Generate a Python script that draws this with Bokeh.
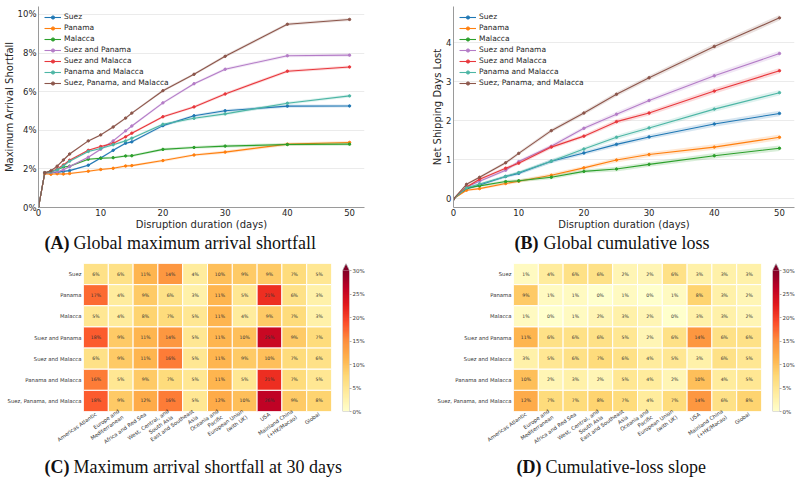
import numpy as np
from bokeh.plotting import figure
from bokeh.layouts import column, row
from bokeh.models import (Range1d, FixedTicker, PrintfTickFormatter, Legend, LegendItem,
                          FactorRange, LinearColorMapper, ColumnDataSource)
from bokeh.core.properties import value
from bokeh.embed import file_html
from bokeh.resources import INLINE
from bokeh.palettes import YlOrRd9

# ---------------- data ----------------
series_names = ["Suez", "Panama", "Malacca", "Suez and Panama", "Suez and Malacca",
                "Panama and Malacca", "Suez, Panama, and Malacca"]
series_colors = ["#1f77b4", "#ff7f0e", "#2ca02c", "#b47cc7", "#e8383d", "#4db6a5", "#8c564b"]

days_a = [0, 1, 2, 3, 4, 5, 8, 10, 12, 14, 15, 20, 25, 30, 40, 50]
shortfall_suez = [0, 1.78, 1.80, 1.82, 1.87, 1.91, 2.19, 2.56, 2.96, 3.33, 3.40, 4.24, 4.75, 5.01, 5.25, 5.26]
shortfall_panama = [0, 1.75, 1.72, 1.75, 1.73, 1.76, 1.88, 1.97, 2.03, 2.15, 2.17, 2.43, 2.72, 2.87, 3.28, 3.37]
shortfall_malacca = [0, 1.80, 1.85, 1.95, 2.10, 2.14, 2.50, 2.55, 2.58, 2.67, 2.68, 3.01, 3.11, 3.18, 3.26, 3.28]
shortfall_suez_panama = [0, 1.80, 1.82, 1.85, 1.95, 2.12, 2.60, 3.02, 3.45, 3.97, 4.22, 5.42, 6.41, 7.16, 7.86, 7.89]
shortfall_suez_malacca = [0, 1.80, 1.85, 2.00, 2.20, 2.45, 2.96, 3.16, 3.32, 3.66, 3.85, 4.70, 5.21, 5.88, 7.06, 7.28]
shortfall_panama_malacca = [0, 1.80, 1.85, 1.95, 2.15, 2.40, 2.90, 3.06, 3.25, 3.45, 3.59, 4.31, 4.62, 4.85, 5.40, 5.78]
shortfall_all = [0, 1.80, 1.90, 2.14, 2.46, 2.77, 3.45, 3.76, 4.17, 4.63, 4.89, 6.05, 6.90, 7.83, 9.49, 9.74]
band_a = [0, 0.04, 0.04, 0.04, 0.05, 0.05, 0.05, 0.05, 0.06, 0.06, 0.06, 0.07, 0.07, 0.08, 0.08, 0.08]

days_b = [0, 2, 4, 8, 10, 15, 20, 25, 30, 40, 50]
loss_suez = [0, 0.25, 0.35, 0.57, 0.65, 0.96, 1.17, 1.39, 1.58, 1.91, 2.18]
loss_panama = [0, 0.22, 0.26, 0.39, 0.45, 0.60, 0.79, 0.99, 1.13, 1.32, 1.57]
loss_malacca = [0, 0.28, 0.33, 0.44, 0.46, 0.55, 0.70, 0.76, 0.88, 1.10, 1.29]
loss_suez_panama = [0, 0.30, 0.45, 0.73, 0.95, 1.34, 1.80, 2.16, 2.51, 3.14, 3.71]
loss_suez_malacca = [0, 0.30, 0.50, 0.78, 0.91, 1.32, 1.60, 1.97, 2.19, 2.75, 3.27]
loss_panama_malacca = [0, 0.28, 0.38, 0.57, 0.67, 0.96, 1.27, 1.57, 1.81, 2.29, 2.71]
loss_all = [0, 0.37, 0.55, 0.92, 1.16, 1.74, 2.19, 2.67, 3.09, 3.89, 4.62]
band_b = [0, 0.03, 0.03, 0.04, 0.04, 0.05, 0.05, 0.06, 0.06, 0.07, 0.07]

regions = ["Americas Atlantic", "Europe and\nMediterranean", "Africa and Red Sea",
           "West, Central, and\nSouth Asia", "East and Southeast\nAsia", "Oceania and\nPacific",
           "European Union\n(with UK)", "USA", "Mainland China\n(+HK/Macao)", "Global"]

shortfall_30d = [
    [6, 6, 11, 14, 4, 10, 9, 9, 7, 5],
    [17, 4, 9, 6, 3, 11, 5, 21, 6, 3],
    [5, 4, 8, 7, 5, 11, 4, 9, 7, 3],
    [18, 9, 11, 14, 5, 11, 10, 25, 9, 7],
    [6, 9, 11, 16, 5, 11, 9, 10, 7, 6],
    [16, 5, 9, 7, 5, 11, 5, 21, 7, 5],
    [18, 9, 12, 16, 5, 12, 10, 26, 9, 8],
]
loss_slope = [
    [1, 4, 6, 6, 2, 2, 6, 3, 3, 3],
    [9, 1, 1, 0, 1, 0, 1, 8, 3, 2],
    [1, 0, 1, 2, 3, 2, 0, 3, 3, 2],
    [11, 6, 6, 6, 5, 2, 6, 14, 6, 6],
    [3, 5, 6, 7, 6, 4, 5, 3, 6, 5],
    [10, 2, 3, 2, 5, 4, 2, 10, 4, 5],
    [12, 7, 7, 8, 7, 4, 7, 14, 6, 8],
]

captions = [("(A)", "Global maximum arrival shortfall"),
            ("(B)", "Global cumulative loss"),
            ("(C)", "Maximum arrival shortfall at 30 days"),
            ("(D)", "Cumulative-loss slope")]

# ---------------- styling helpers ----------------
SANS = "DejaVu Sans"
SERIF = "Liberation Serif"

def hex_to_rgb(h):
    return tuple(int(h[i:i + 2], 16) for i in (1, 3, 5))

base = list(reversed(YlOrRd9))
def build_palette(n=256):
    cols = []
    for k in range(n):
        t = k / (n - 1) * (len(base) - 1)
        i = min(int(t), len(base) - 2)
        f = t - i
        a, b = hex_to_rgb(base[i]), hex_to_rgb(base[i + 1])
        c = tuple(int(round(a[j] + (b[j] - a[j]) * f)) for j in range(3))
        cols.append("#%02x%02x%02x" % c)
    return cols
palette = build_palette()
mapper = LinearColorMapper(palette=palette, low=0, high=30)

def style_line_fig(p):
    p.outline_line_color = None
    p.xgrid.grid_line_color = None
    p.ygrid.grid_line_color = "#ebebeb"
    p.ygrid.grid_line_width = 1
    for ax in (p.xaxis, p.yaxis):
        ax.axis_line_color = "#9a9a9a"
        ax.axis_line_width = 1
        ax.major_tick_line_color = None
        ax.minor_tick_line_color = None
        ax.major_tick_out = 0
        ax.major_tick_in = 0
        ax.minor_tick_out = 0
        ax.minor_tick_in = 0
        ax.major_label_text_font = SANS
        ax.major_label_text_font_size = "8.5px"
        ax.major_label_text_color = "#262626"
        ax.axis_label_text_font = SANS
        ax.axis_label_text_font_size = "10px"
        ax.axis_label_text_font_style = "normal"
        ax.axis_label_text_color = "#262626"
        ax.major_label_standoff = 2
        ax.axis_label_standoff = 0
    p.xaxis.major_label_standoff = 1
    p.xaxis.ticker = FixedTicker(ticks=[0, 10, 20, 30, 40, 50])

def line_panel(width, height, xr, yr, bl, br, bt, bb, days, ys_list, band, ylabel, yticks, yfmt):
    p = figure(width=width, height=height, output_backend="svg", toolbar_location=None,
               x_range=Range1d(*xr), y_range=Range1d(*yr),
               min_border_left=bl, min_border_right=br, min_border_top=bt, min_border_bottom=bb)
    style_line_fig(p)
    p.yaxis.ticker = FixedTicker(ticks=yticks)
    if yfmt:
        p.yaxis.formatter = PrintfTickFormatter(format=yfmt)
    p.xaxis.axis_label = "Disruption duration (days)"
    p.yaxis.axis_label = ylabel
    items = []
    for name, col, ys in zip(series_names, series_colors, ys_list):
        lo = [y - b for y, b in zip(ys, band)]
        hi = [y + b for y, b in zip(ys, band)]
        p.varea(x=days, y1=lo, y2=hi, fill_color=col, fill_alpha=0.18)
        r1 = p.line(days, ys, line_color=col, line_width=1.1)
        r2 = p.scatter(days, ys, marker="circle", size=2.4, fill_color=col, line_color=col)
        items.append(LegendItem(label=name, renderers=[r1, r2]))
    leg = Legend(items=items, location="top_left", label_text_font=SANS,
                 label_text_font_size="7.5px", label_text_color="#262626",
                 glyph_width=17, glyph_height=8, label_height=8, spacing=2,
                 padding=5, margin=1, label_standoff=3,
                 background_fill_alpha=0, border_line_alpha=0)
    p.add_layout(leg)
    return p

H1 = 232
figA = line_panel(400, H1, (0, 52.4), (0, 10.41), 35, 36, 4, H1 - 207, days_a,
                  [shortfall_suez, shortfall_panama, shortfall_malacca, shortfall_suez_panama,
                   shortfall_suez_malacca, shortfall_panama_malacca, shortfall_all],
                  band_a, "Maximum Arrival Shortfall", [0, 2, 4, 6, 8, 10], "%d%%")
figB = line_panel(401, H1, (0, 52.3), (-0.222, 4.91), 53, 7, 6, H1 - 207, days_b,
                  [loss_suez, loss_panama, loss_malacca, loss_suez_panama,
                   loss_suez_malacca, loss_panama_malacca, loss_all],
                  band_b, "Net Shipping Days Lost", [0, 1, 2, 3, 4], None)

def caption_fig(width, height, entries, ytop):
    p = figure(width=width, height=height, output_backend="svg", toolbar_location=None,
               x_range=Range1d(0, width), y_range=Range1d(0, height),
               min_border=0, outline_line_color=None)
    p.axis.visible = False
    p.grid.visible = False
    for (tag, txt), x0, tag_w in entries:
        p.text(x=[x0], y=[height - ytop], text=[tag], text_font=value(SERIF),
               text_font_size="18px", text_font_style="bold", text_baseline="middle",
               text_align="left", text_color="#111111")
        p.text(x=[x0 + tag_w], y=[height - ytop], text=[txt], text_font=value(SERIF),
               text_font_size="18px", text_baseline="middle", text_align="left",
               text_color="#111111")
    return p

cap1 = caption_fig(801, 256 - H1, [(captions[0], 44, 29), (captions[1], 514, 29)], 242 - H1)

H2 = 200
def heat_panel(width, bl, br, matrix):
    rows_rev = list(reversed(series_names))
    p = figure(width=width, height=H2, output_backend="svg", toolbar_location=None,
               x_range=FactorRange(factors=regions), y_range=FactorRange(factors=rows_rev),
               min_border_left=bl, min_border_right=br, min_border_top=7, min_border_bottom=H2 - 157)
    xs, ys, vals, labels = [], [], [], []
    for rname, rvals in zip(series_names, matrix):
        for cname, v in zip(regions, rvals):
            xs.append(cname); ys.append(rname); vals.append(v); labels.append("%d%%" % v)
    src = ColumnDataSource(dict(x=xs, y=ys, v=vals, t=labels))
    p.rect(x="x", y="y", width=1, height=1, source=src,
           fill_color={"field": "v", "transform": mapper}, line_color="white", line_width=1)
    p.text(x="x", y="y", text="t", source=src, text_font=value(SANS), text_font_size="4.6px",
           text_align="center", text_baseline="middle", text_color="#333333")
    p.outline_line_color = None
    p.grid.visible = False
    for ax in (p.xaxis, p.yaxis):
        ax.axis_line_color = None
        ax.major_tick_line_color = None
        ax.minor_tick_line_color = None
        ax.major_tick_out = 0
        ax.major_tick_in = 0
        ax.minor_tick_out = 0
        ax.minor_tick_in = 0
        ax.major_label_text_font = SANS
        ax.major_label_text_font_size = "5.3px"
        ax.major_label_text_color = "#333333"
        ax.major_label_standoff = 2
    p.xaxis.major_label_orientation = 0.61
    return p

def colorbar_fig(width):
    p = figure(width=width, height=H2, output_backend="svg", toolbar_location=None,
               x_range=Range1d(0, 1), y_range=Range1d(0, 31.5), y_axis_location="right",
               min_border_left=4, min_border_right=width - 11, min_border_top=7,
               min_border_bottom=H2 - 157)
    p.image(image=[np.linspace(0, 30, 256).reshape(-1, 1)], x=0, y=0, dw=1, dh=30,
            color_mapper=mapper)
    p.patch(x=[0, 1, 0.5], y=[30, 30, 31.5], fill_color="#800026", line_color=None)
    p.line(x=[0, 1, 1, 0.5, 0, 0], y=[0, 0, 30, 31.5, 30, 0], line_color="#b0b0b0", line_width=0.8)
    p.outline_line_color = None
    p.grid.visible = False
    p.xaxis.visible = False
    ax = p.yaxis
    ax.ticker = FixedTicker(ticks=[0, 5, 10, 15, 20, 25, 30])
    ax.formatter = PrintfTickFormatter(format="%d%%")
    ax.axis_line_color = None
    ax.major_tick_line_color = "#b0b0b0"
    ax.major_tick_out = 2
    ax.major_tick_in = 0
    ax.minor_tick_line_color = None
    ax.minor_tick_out = 0
    ax.minor_tick_in = 0
    ax.major_label_text_font = SANS
    ax.major_label_text_font_size = "5.5px"
    ax.major_label_text_color = "#333333"
    ax.major_label_standoff = 1
    return p

hmC = heat_panel(338, 83, 7, shortfall_30d)
cbC = colorbar_fig(62)
hmD = heat_panel(368, 113, 7, loss_slope)
cbD = colorbar_fig(33)

cap2 = caption_fig(801, 481 - 256 - H2, [(captions[2], 44, 29), (captions[3], 516, 29)], 466 - 456)

layout = column(row(figA, figB), cap1, row(hmC, cbC, hmD, cbD), cap2)
open("out.html", "w").write(file_html(layout, INLINE))
